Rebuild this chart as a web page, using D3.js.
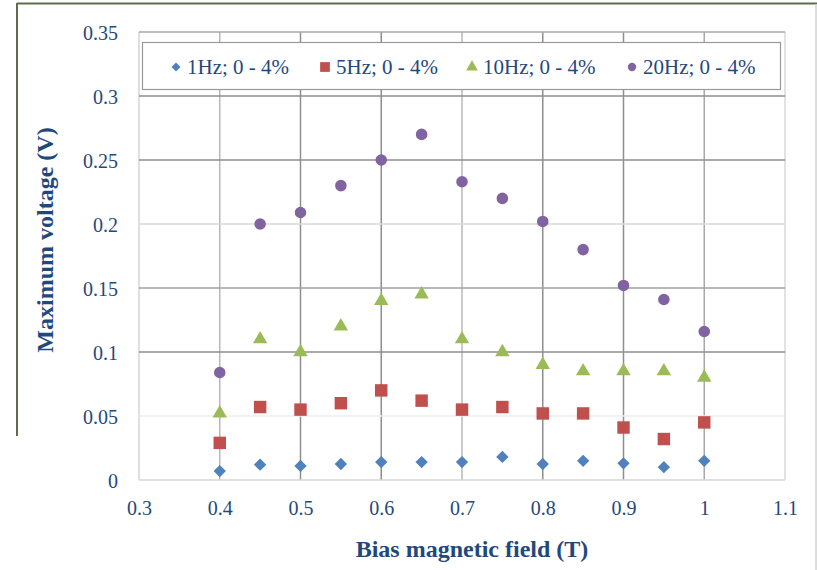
<!DOCTYPE html>
<html>
<head>
<meta charset="utf-8">
<script src="https://cdn.jsdelivr.net/npm/d3@7"></script>
<style>
  body { margin: 0; background: #fff; }
  svg text { font-family: "Liberation Serif", Tinos, "Times New Roman", "DejaVu Serif", serif; fill: #1f497d; }
</style>
</head>
<body>
<div id="chart"></div>
<script>
const fields = [0.4, 0.45, 0.5, 0.55, 0.6, 0.65, 0.7, 0.75, 0.8, 0.85, 0.9, 0.95, 1.0];
const hz1 = [0.007, 0.012, 0.011, 0.0125, 0.014, 0.014, 0.014, 0.018, 0.0125, 0.015, 0.013, 0.010, 0.015];
const hz5 = [0.029, 0.057, 0.055, 0.06, 0.07, 0.062, 0.055, 0.057, 0.052, 0.052, 0.041, 0.032, 0.045];
const hz10 = [0.052, 0.11, 0.1, 0.12, 0.14, 0.145, 0.11, 0.1, 0.09, 0.085, 0.085, 0.085, 0.08];
const hz20 = [0.084, 0.2, 0.209, 0.23, 0.25, 0.27, 0.233, 0.22, 0.202, 0.18, 0.152, 0.141, 0.116];
const seriesNames = ['1Hz; 0 - 4%', '5Hz; 0 - 4%', '10Hz; 0 - 4%', '20Hz; 0 - 4%'];
const xTicks = [0.3, 0.4, 0.5, 0.6, 0.7, 0.8, 0.9, 1, 1.1];
const yTicks = [0, 0.05, 0.1, 0.15, 0.2, 0.25, 0.3, 0.35];

const series = [
    { name: seriesNames[0], values: hz1, color: '#4f81bd', shape: 'diamond' },
    { name: seriesNames[1], values: hz5, color: '#c0504d', shape: 'square' },
    { name: seriesNames[2], values: hz10, color: '#9bbb59', shape: 'triangle' },
    { name: seriesNames[3], values: hz20, color: '#8064a2', shape: 'circle' }
];

const serif = '"Liberation Serif", Tinos, "Times New Roman", "DejaVu Serif", serif';

// grid shades as they come out in the scanned figure
const vGridColor = ['#d4d4d4', '#b8b8b8', '#8e8e8e', '#8e8e8e', '#b8b8b8', '#8e8e8e', '#8e8e8e', '#a8a8a8', '#d8d8d8'];
const hGridColor = ['#d6d6d6', '#ececec', '#8e8e8e', '#a0a0a0', '#d8d8d8', '#8e8e8e', '#8e8e8e', '#a8a8a8'];

const svgWidth = 817;
const svgHeight = 570;

const svg = d3.select('#chart')
    .append('svg')
    .attr('width', svgWidth)
    .attr('height', svgHeight)
    .attr('font-family', serif);

const x = d3.scaleLinear().domain([0.3, 1.1]).range([139, 785]);
const y = d3.scaleLinear().domain([0, 0.35]).range([480, 32]);

// outer frame of the figure
svg.append('line').attr('x1', 17).attr('x2', 817).attr('y1', 3.5).attr('y2', 3.5)
    .attr('stroke', '#5d6e4c').attr('stroke-width', 2);
svg.append('line').attr('x1', 17).attr('x2', 17).attr('y1', 3).attr('y2', 436)
    .attr('stroke', '#5d6e4c').attr('stroke-width', 2);
svg.append('line').attr('x1', 816).attr('x2', 816).attr('y1', 4).attr('y2', 570)
    .attr('stroke', '#d0d0d0').attr('stroke-width', 1.5);

// grid
svg.append('g').selectAll('line').data(xTicks).enter().append('line')
    .attr('x1', d => x(d)).attr('x2', d => x(d))
    .attr('y1', y(0.35)).attr('y2', y(0))
    .attr('stroke', (d, i) => vGridColor[i]).attr('stroke-width', 1.5);
svg.append('g').selectAll('line').data(yTicks).enter().append('line')
    .attr('x1', x(0.3)).attr('x2', x(1.1))
    .attr('y1', d => y(d)).attr('y2', d => y(d))
    .attr('stroke', (d, i) => hGridColor[i]).attr('stroke-width', 1.5);

// axes (labels only, lines are the grid)
const xAxis = svg.append('g')
    .attr('transform', `translate(0, ${y(0)})`)
    .call(d3.axisBottom(x).tickValues(xTicks).tickSize(0).tickPadding(35).tickFormat(d => String(+d.toFixed(2))));
const yAxis = svg.append('g')
    .attr('transform', `translate(${x(0.3)}, 0)`)
    .call(d3.axisLeft(y).tickValues(yTicks).tickSize(0).tickPadding(21).tickFormat(d => String(+d.toFixed(2))));
[xAxis, yAxis].forEach(a => {
    a.attr('font-family', serif).attr('font-size', 20);
    a.select('.domain').remove();
    a.selectAll('text').attr('fill', '#2a4e80');
});
yAxis.selectAll('text').attr('dy', '0.35em');
xAxis.selectAll('text').attr('dy', 0).attr('y', 35);

function symbolPath(shape, big) {
    if (shape === 'diamond') return d3.symbol(d3.symbolSquare, big ? 76 : 40)();
    if (shape === 'square') return d3.symbol(d3.symbolSquare, big ? 155 : 95)();
    if (shape === 'triangle') return d3.symbol(d3.symbolTriangle, big ? 90 : 60)();
    return d3.symbol(d3.symbolCircle, big ? 105 : 55)();
}

series.forEach(s => {
    svg.append('g').selectAll('path')
        .data(s.values)
        .enter()
        .append('path')
        .attr('d', symbolPath(s.shape, true))
        .attr('transform', (d, i) => `translate(${x(fields[i])}, ${y(d)})` + (s.shape === 'diamond' ? ' rotate(45)' : ''))
        .attr('fill', s.color);
});

// legend
const legend = svg.append('g');
legend.append('rect')
    .attr('x', 142.5).attr('y', 42.5).attr('width', 638).attr('height', 47)
    .attr('fill', '#fff').attr('stroke', '#9a9a9a').attr('stroke-width', 1.2);
const legendX = [176, 325, 472, 632];
series.forEach((s, i) => {
    legend.append('path')
        .attr('d', symbolPath(s.shape, false))
        .attr('transform', `translate(${legendX[i]}, 67)` + (s.shape === 'diamond' ? ' rotate(45)' : ''))
        .attr('fill', s.color);
    legend.append('text')
        .attr('x', legendX[i] + 11).attr('y', 74)
        .attr('font-size', 21)
        .attr('fill', '#2a4e80')
        .text(s.name);
});

// axis titles
svg.append('text')
    .attr('x', 472).attr('y', 557)
    .attr('text-anchor', 'middle')
    .attr('font-size', 24).attr('font-weight', 'bold')
    .text('Bias magnetic field (T)');
svg.append('text')
    .attr('transform', 'translate(53, 240) rotate(-90)')
    .attr('text-anchor', 'middle')
    .attr('font-size', 24).attr('font-weight', 'bold')
    .text('Maximum voltage (V)');
</script>
</body>
</html>
